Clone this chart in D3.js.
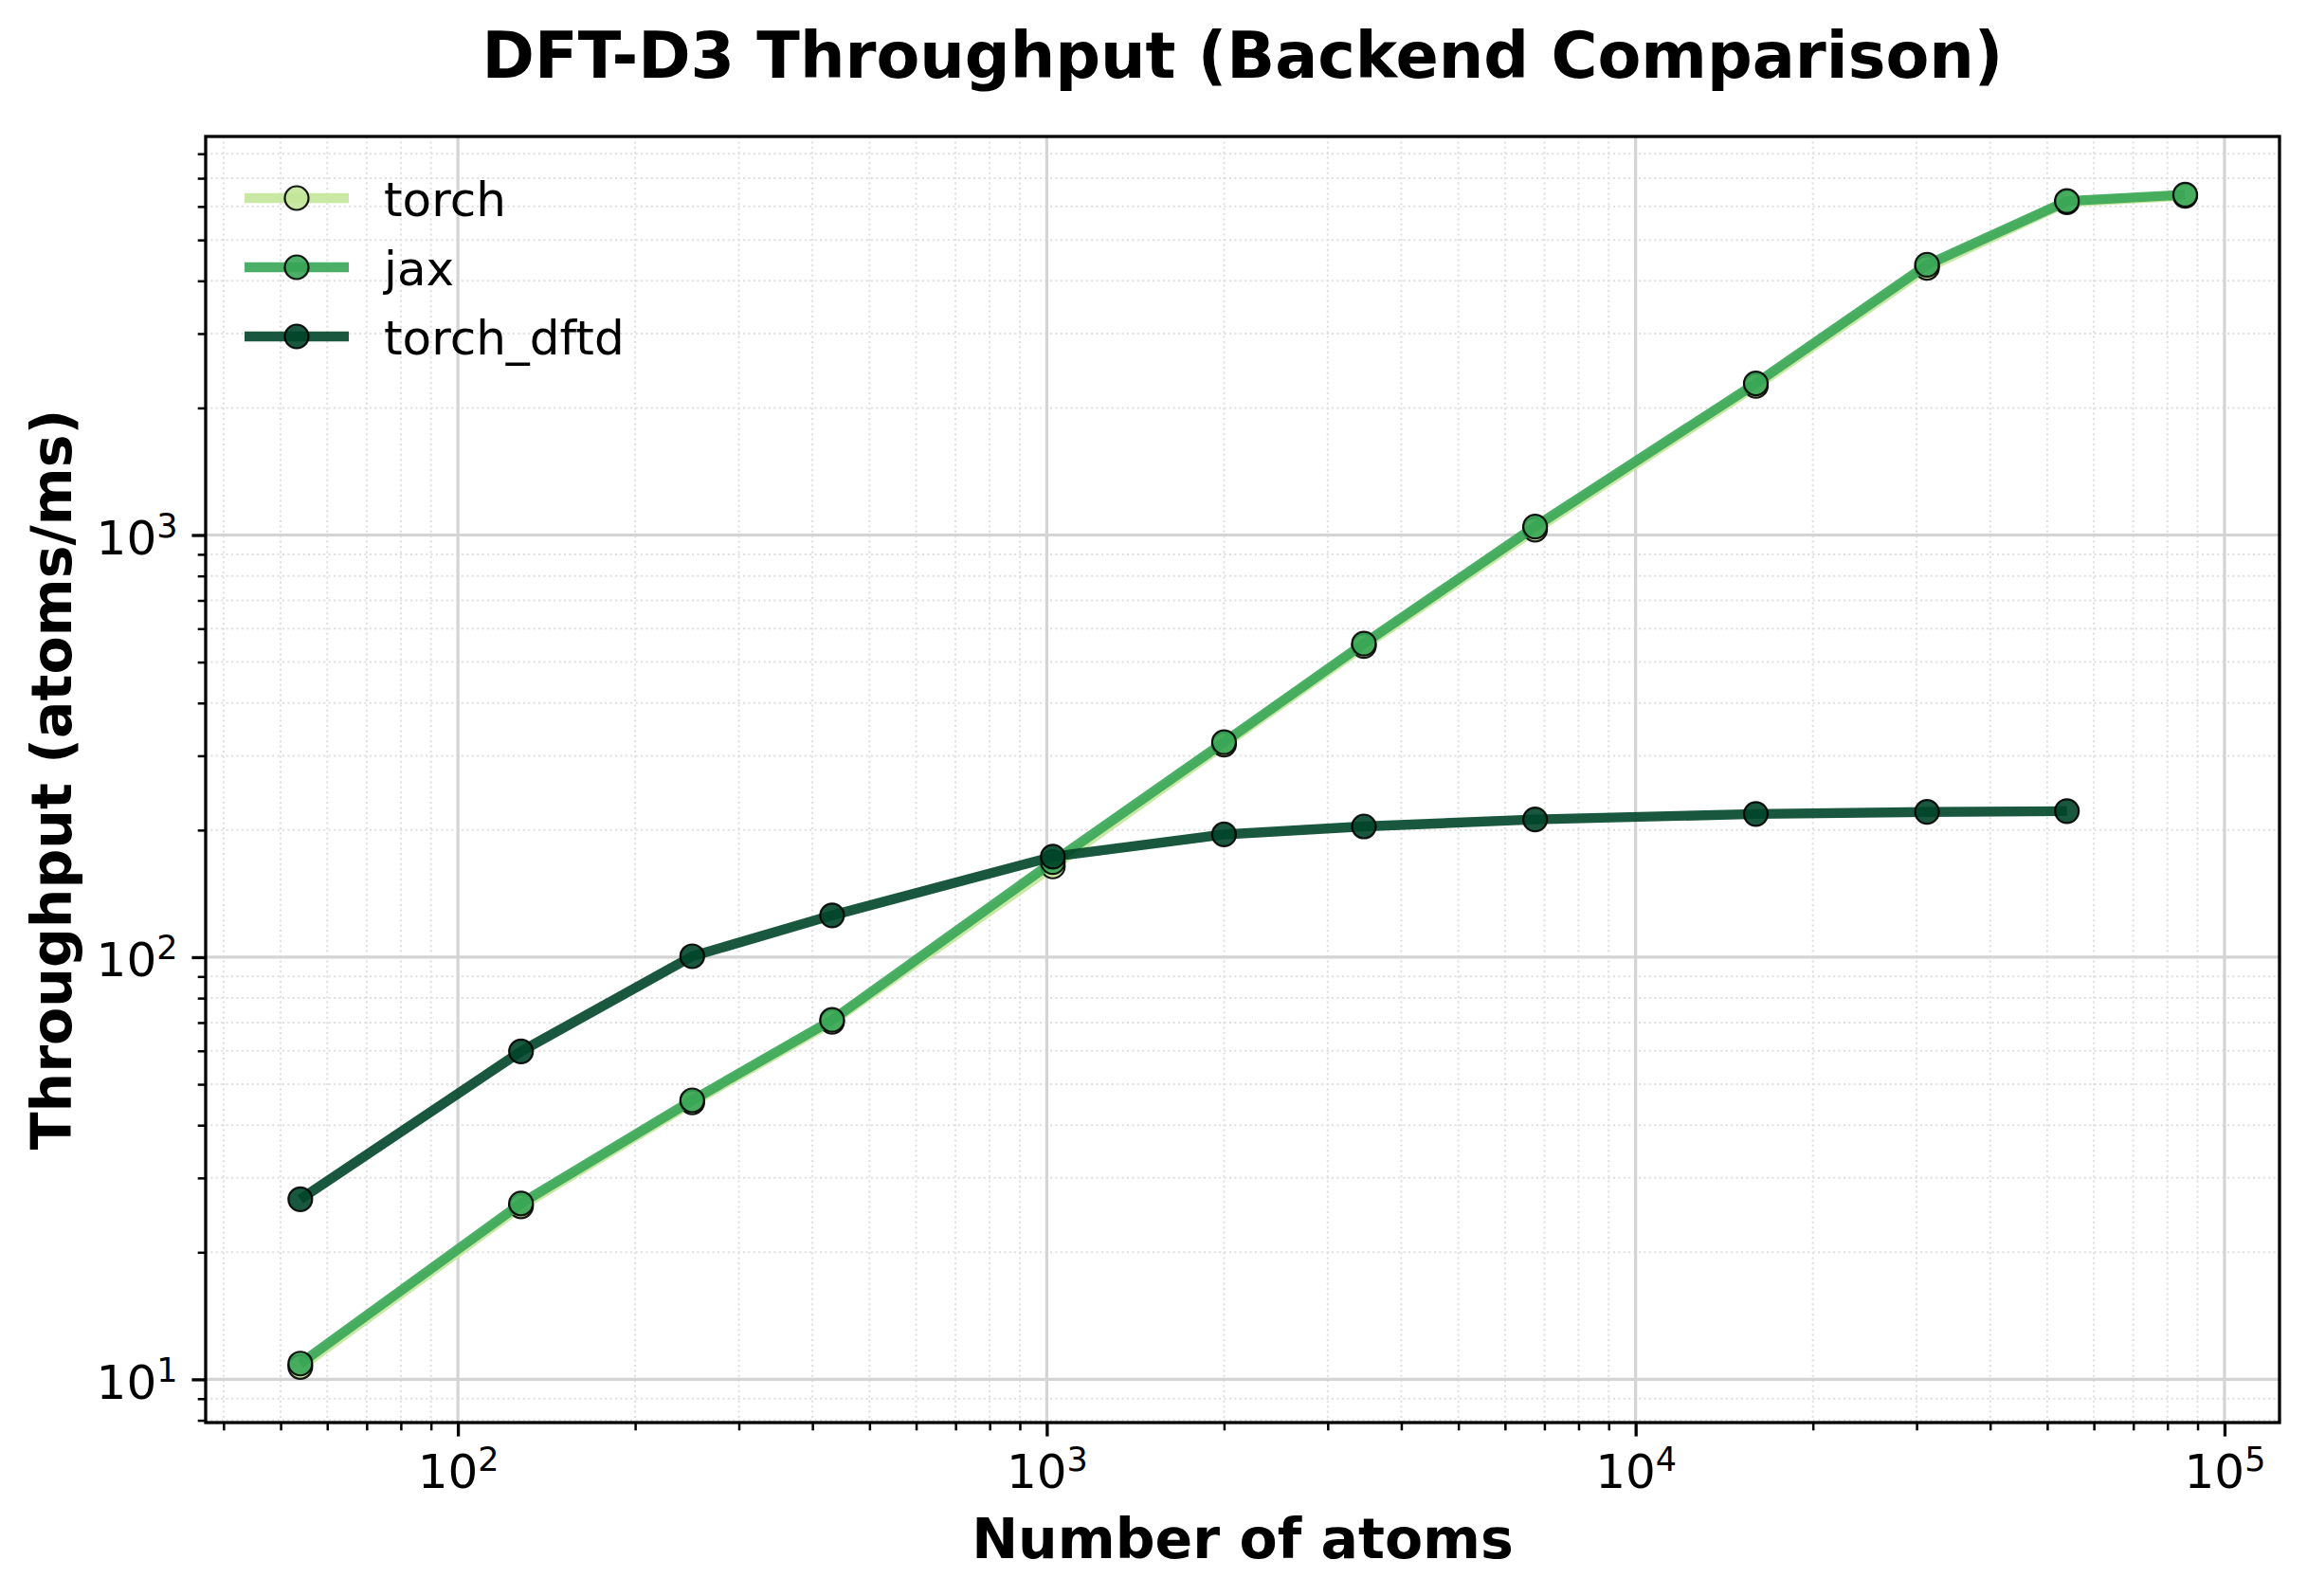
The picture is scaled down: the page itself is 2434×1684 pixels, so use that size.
<!DOCTYPE html>
<html>
<head>
<meta charset="utf-8">
<script src="https://cdn.jsdelivr.net/npm/d3@7"></script>
<style>
  body { margin: 0; background: #fff; }
  text { font-family: "DejaVu Sans", sans-serif; fill: #000; }
</style>
</head>
<body>
<svg id="chart" width="2434" height="1684"></svg>
<script>
// Data (atoms = 2 * n^3 bcc supercells)
const atoms = [54, 128, 250, 432, 1024, 2000, 3456, 6750, 16000, 31250, 54000, 85750];
const torchVals = [10.7, 25.7, 45.3, 70.3, 164, 319, 546, 1030, 2255, 4295, 6140, 6360];
const jaxVals = [10.9, 26.1, 45.8, 71.0, 168, 323, 553, 1047, 2286, 4365, 6180, 6400];
const dftdAtoms = [54, 128, 250, 432, 1024, 2000, 3456, 6750, 16000, 31250, 54000];
const dftdVals = [26.7, 59.8, 100.5, 125.6, 173, 195.3, 204, 211.9, 218.4, 220.8, 221.8];

const seriesNames = ["torch", "jax", "torch_dftd"];
const seriesColors = ["#c2e699", "#38a657", "#004529"];

const series = [
  { name: seriesNames[0], color: seriesColors[0], pts: atoms.map((n, i) => ({ n, v: torchVals[i] })) },
  { name: seriesNames[1], color: seriesColors[1], pts: atoms.map((n, i) => ({ n, v: jaxVals[i] })) },
  { name: seriesNames[2], color: seriesColors[2], pts: dftdAtoms.map((n, i) => ({ n, v: dftdVals[i] })) }
];

// Layout
const L = 217, R = 2405, T = 144, B = 1501;
const svg = d3.select("#chart");

const x = d3.scaleLog().domain([37.3, 124000]).range([L, R]);
const y = d3.scaleLog().domain([7.9, 8790]).range([B, T]);

const isMajor = v => Math.abs(Math.log10(v) - Math.round(Math.log10(v))) < 1e-9;
const xMajor = x.ticks().filter(isMajor);
const xMinor = x.ticks().filter(v => !isMajor(v));
const yMajor = y.ticks().filter(isMajor);
const yMinor = y.ticks().filter(v => !isMajor(v));

// Grid: minor dotted, then major solid
const grid = svg.append("g");
grid.selectAll(".gxm").data(xMinor).join("line")
  .attr("x1", d => x(d)).attr("x2", d => x(d)).attr("y1", T).attr("y2", B)
  .attr("stroke", "#dedede").attr("stroke-width", 2).attr("stroke-dasharray", "2,3.4");
grid.selectAll(".gym").data(yMinor).join("line")
  .attr("y1", d => y(d)).attr("y2", d => y(d)).attr("x1", L).attr("x2", R)
  .attr("stroke", "#dedede").attr("stroke-width", 2).attr("stroke-dasharray", "2,3.4");
grid.selectAll(".gxM").data(xMajor).join("line")
  .attr("x1", d => x(d)).attr("x2", d => x(d)).attr("y1", T).attr("y2", B)
  .attr("stroke", "#d4d4d4").attr("stroke-width", 3.2);
grid.selectAll(".gyM").data(yMajor).join("line")
  .attr("y1", d => y(d)).attr("y2", d => y(d)).attr("x1", L).attr("x2", R)
  .attr("stroke", "#d4d4d4").attr("stroke-width", 3.2);

// Clip for data
svg.append("clipPath").attr("id", "plotclip")
  .append("rect").attr("x", L).attr("y", T).attr("width", R - L).attr("height", B - T);

const line = d3.line().x(d => x(d.n)).y(d => y(d.v));
const plot = svg.append("g").attr("clip-path", "url(#plotclip)");

series.forEach(s => {
  const g = plot.append("g");
  g.append("path").datum(s.pts)
    .attr("d", line)
    .attr("fill", "none")
    .attr("stroke", s.color)
    .attr("stroke-opacity", 0.9)
    .attr("stroke-width", 10.4)
    .attr("stroke-linejoin", "round")
    .attr("stroke-linecap", "butt");
  g.selectAll("circle").data(s.pts).join("circle")
    .attr("cx", d => x(d.n)).attr("cy", d => y(d.v))
    .attr("r", 12.5)
    .attr("fill", s.color).attr("fill-opacity", 0.9)
    .attr("stroke", "#000").attr("stroke-opacity", 0.9).attr("stroke-width", 2.2);
});

// Axes ticks
function styleTicks(g, w) {
  g.select(".domain").remove();
  g.selectAll(".tick line").attr("stroke", "#000").attr("stroke-width", w);
}

svg.append("g").attr("transform", `translate(0,${B})`)
  .call(d3.axisBottom(x).tickValues(xMinor).tickSize(8.3).tickFormat(""))
  .call(g => styleTicks(g, 2.5));
svg.append("g").attr("transform", `translate(${L},0)`)
  .call(d3.axisLeft(y).tickValues(yMinor).tickSize(8.3).tickFormat(""))
  .call(g => styleTicks(g, 2.5));

function powLabel(text) {
  text.each(function (d) {
    const t = d3.select(this);
    const e = Math.round(Math.log10(d));
    t.text(null).attr("dy", null).attr("font-size", 50).attr("fill", "#000");
    t.append("tspan").text("10");
    t.append("tspan").attr("dy", -18).attr("font-size", 35).text(e);
  });
}

svg.append("g").attr("transform", `translate(0,${B})`)
  .call(d3.axisBottom(x).tickValues(xMajor).tickSize(14.6).tickPadding(14.6))
  .call(g => styleTicks(g, 3.3))
  .call(g => g.selectAll(".tick text").attr("y", 69).call(powLabel));

svg.append("g").attr("transform", `translate(${L},0)`)
  .call(d3.axisLeft(y).tickValues(yMajor).tickSize(14.6).tickPadding(14.6))
  .call(g => styleTicks(g, 3.3))
  .call(g => g.selectAll(".tick text").attr("x", -29.5).attr("y", 20).call(powLabel));

// Spines
svg.append("rect").attr("x", L).attr("y", T).attr("width", R - L).attr("height", B - T)
  .attr("fill", "none").attr("stroke", "#000").attr("stroke-width", 3.3);

// Labels
svg.append("text").attr("x", (L + R) / 2).attr("y", 82)
  .attr("text-anchor", "middle").attr("font-size", 66.8).attr("font-weight", "bold")
  .text("DFT-D3 Throughput (Backend Comparison)");
svg.append("text").attr("x", (L + R) / 2).attr("y", 1644)
  .attr("text-anchor", "middle").attr("font-size", 58.5).attr("font-weight", "bold")
  .text("Number of atoms");
svg.append("text").attr("transform", `translate(75,${(T + B) / 2}) rotate(-90)`)
  .attr("text-anchor", "middle").attr("font-size", 58.5).attr("font-weight", "bold")
  .text("Throughput (atoms/ms)");

// Legend
const legend = svg.append("g");
const rowY = [209, 282, 355];
series.forEach((s, i) => {
  legend.append("line")
    .attr("x1", 258).attr("x2", 368).attr("y1", rowY[i]).attr("y2", rowY[i])
    .attr("stroke", s.color).attr("stroke-opacity", 0.9).attr("stroke-width", 10.4);
  legend.append("circle").attr("cx", 313).attr("cy", rowY[i]).attr("r", 12.5)
    .attr("fill", s.color).attr("fill-opacity", 0.9)
    .attr("stroke", "#000").attr("stroke-opacity", 0.9).attr("stroke-width", 2.2);
  legend.append("text").attr("x", 405).attr("y", rowY[i] + 18.5)
    .attr("font-size", 50).text(s.name);
});
</script>
</body>
</html>
